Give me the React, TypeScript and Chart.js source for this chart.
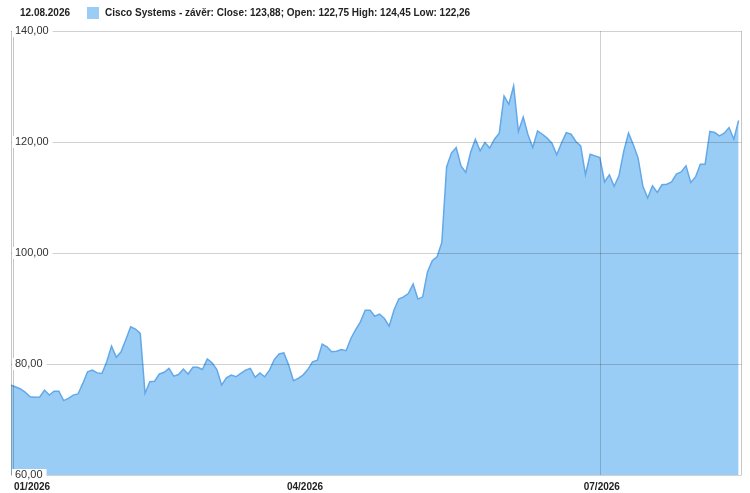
import React, { useEffect, useRef } from "react";
import { Chart, registerables } from "chart.js";

Chart.register(...registerables);

// Daily closes, 02.01.2026 – 12.08.2026 (trading days)
const closeValues: number[] = [
  76.2, 75.85, 75.5, 74.9, 74.1, 74.0, 74.05, 75.3, 74.4, 75.1,
  75.1, 73.4, 73.8, 74.4, 74.6, 76.5, 78.6, 78.9, 78.4, 78.3,
  80.4, 83.2, 81.2, 82.2, 84.4, 86.7, 86.3, 85.5, 74.7, 76.8,
  76.9, 78.2, 78.5, 79.2, 77.8, 78.1, 79.1, 78.2, 79.4, 79.4,
  79.0, 80.9, 80.2, 79.0, 76.2, 77.5, 78.0, 77.7, 78.3, 78.9,
  79.2, 77.6, 78.4, 77.7, 78.9, 80.8, 81.8, 82.0, 79.8, 77.0,
  77.4, 78.0, 79.0, 80.4, 80.7, 83.6, 83.1, 82.2, 82.3, 82.6,
  82.4, 84.6, 86.2, 87.6, 89.7, 89.7, 88.6, 89.0, 88.2, 86.8,
  89.7, 91.7, 92.1, 92.7, 94.4, 91.7, 92.1, 96.6, 98.6, 99.3,
  101.9, 115.5, 118.0, 119.0, 115.7, 114.5, 118.1, 120.5, 118.4, 119.9,
  118.9, 120.5, 121.6, 128.3, 126.8, 130.1, 121.9, 124.5, 121.3, 119.0,
  122.0, 121.4, 120.7, 119.8, 117.7, 119.8, 121.7, 121.4, 120.1, 119.3,
  114.1, 117.8, 117.5, 117.2, 112.8, 114.1, 112.0, 113.9, 118.3, 121.6,
  119.5, 117.1, 112.0, 109.9, 112.1, 110.9, 112.3, 112.4, 112.8, 114.2,
  114.6, 115.7, 112.7, 113.7, 116.0, 116.0, 121.9, 121.7, 121.1, 121.6,
  122.6, 120.5, 123.88,
];

const xTickLabels: string[] = ["01/2026", "04/2026", "07/2026"];
const xTickIndex: number[] = [0, 61, 123];
const xGridLineIndex: number[] = [123];
const yTickValues: number[] = [60, 80, 100, 120, 140];

const legendDate = "12.08.2026";
const legendText =
  "Cisco Systems - závěr: Close: 123,88; Open: 122,75 High: 124,45 Low: 122,26";

const FONT = "'Liberation Sans', Arial, sans-serif";
const FILL = "rgb(154,205,246)";
const LINE = "rgb(99,168,232)";

const fmt = (v: number) => v.toFixed(2).replace(".", ",");

const overlayPlugin = {
  id: "overlay",
  afterDatasetsDraw(chart: any) {
    const { ctx, chartArea: a, scales } = chart;
    const xs = scales.x;
    const ys = scales.y;
    ctx.save();

    // horizontal grid lines
    ctx.lineWidth = 1;
    ctx.strokeStyle = "rgba(0,0,0,0.18)";
    yTickValues.forEach((v) => {
      const py = Math.round(ys.getPixelForValue(v)) + 0.5;
      ctx.beginPath();
      ctx.moveTo(a.left, py);
      ctx.lineTo(a.right, py);
      ctx.stroke();
    });

    // vertical grid line(s)
    xGridLineIndex.forEach((i) => {
      const px = Math.round(xs.getPixelForValue(i)) + 0.5;
      ctx.beginPath();
      ctx.moveTo(px, a.top);
      ctx.lineTo(px, a.bottom);
      ctx.stroke();
    });

    // left axis (double line) & right border
    ctx.strokeStyle = "rgba(0,0,0,0.22)";
    [0.5, 2.5].forEach((d) => {
      ctx.beginPath();
      ctx.moveTo(Math.round(a.left) + d, a.top);
      ctx.lineTo(Math.round(a.left) + d, a.bottom);
      ctx.stroke();
    });
    ctx.beginPath();
    ctx.moveTo(Math.round(a.right) - 0.5, a.top);
    ctx.lineTo(Math.round(a.right) - 0.5, a.bottom);
    ctx.stroke();

    // y labels with white boxes
    ctx.font = `11px ${FONT}`;
    ctx.textBaseline = "middle";
    ctx.textAlign = "left";
    yTickValues.forEach((v) => {
      const t = fmt(v);
      const w = ctx.measureText(t).width;
      const py = ys.getPixelForValue(v);
      ctx.fillStyle = "#ffffff";
      ctx.fillRect(a.left + 1, py - 6, w + 7, 12);
      ctx.fillStyle = "#333333";
      ctx.fillText(t, a.left + 4, py);
    });

    // x labels
    ctx.font = `bold 10px ${FONT}`;
    ctx.fillStyle = "#222222";
    ctx.textBaseline = "middle";
    xTickLabels.forEach((t, k) => {
      const px = xs.getPixelForValue(xTickIndex[k]);
      if (k === 0) {
        ctx.textAlign = "left";
        ctx.fillText(t, px + 3, a.bottom + 12);
      } else {
        ctx.textAlign = "center";
        ctx.fillText(t, px + 2, a.bottom + 12);
      }
    });

    // legend
    ctx.textAlign = "left";
    ctx.font = `bold 10px ${FONT}`;
    ctx.fillStyle = "#222222";
    ctx.fillText(legendDate, 20, 13);
    ctx.fillStyle = FILL;
    ctx.fillRect(87, 7, 12, 12);
    ctx.fillStyle = "#222222";
    ctx.fillText(legendText, 105, 13);

    ctx.restore();
  },
};

export default function App() {
  const ref = useRef<HTMLCanvasElement | null>(null);

  useEffect(() => {
    document.body.style.margin = "0";
    const canvas = ref.current;
    if (!canvas) return;
    const chart = new Chart(canvas, {
      type: "line",
      data: {
        datasets: [
          {
            label: "Cisco Systems",
            data: closeValues.map((v, i) => ({ x: i, y: v })),
            fill: "start",
            backgroundColor: FILL,
            borderColor: LINE,
            borderWidth: 1.5,
            pointRadius: 0,
            tension: 0,
          },
        ],
      },
      options: {
        animation: false,
        responsive: false,
        devicePixelRatio: 1,
        layout: { padding: { left: 11, top: 31, right: 8.5, bottom: 18 } },
        plugins: {
          legend: { display: false },
          tooltip: { enabled: false },
        },
        scales: {
          x: { type: "linear", display: false, min: 0, max: 152.6 },
          y: { type: "linear", display: false, min: 60, max: 140 },
        },
      },
      plugins: [overlayPlugin],
    });
    return () => chart.destroy();
  }, []);

  return (
    <div style={{ width: 750, height: 493 }}>
      <canvas ref={ref} width={750} height={493} style={{ display: "block" }} />
    </div>
  );
}
